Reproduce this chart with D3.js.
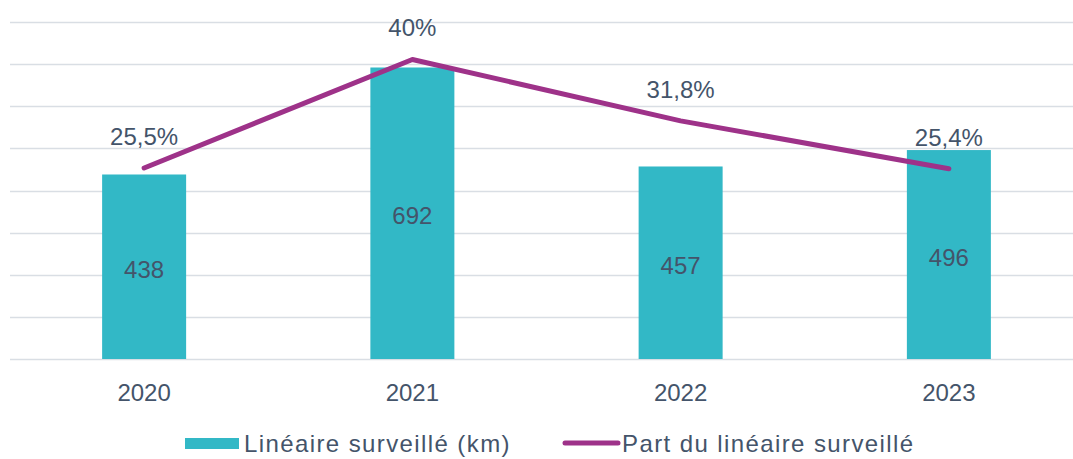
<!DOCTYPE html>
<html>
<head>
<meta charset="utf-8">
<script src="https://cdn.jsdelivr.net/npm/d3@7"></script>
<style>
  body { margin: 0; background: #fff; }
  text { font-family: "Liberation Sans", Arial, sans-serif; fill: #44546a; }
</style>
</head>
<body>
<svg id="chart" width="1073" height="459"></svg>
<script>
var years = ["2020", "2021", "2022", "2023"];
var lineaire = [438, 692, 457, 496];          // km
var part = [25.5, 40, 31.8, 25.4];            // %
var partLabels = ["25,5%", "40%", "31,8%", "25,4%"];
var gridTicks = [0, 100, 200, 300, 400, 500, 600, 700, 800];
var legendNames = ["Linéaire surveillé (km)", "Part du linéaire surveillé"];

var svg = d3.select('#chart');
var barColor = '#32b8c6', lineColor = '#9e3289';
var fs = 24;

var x = d3.scaleBand().domain(years).range([10, 1083]);
var y = d3.scaleLinear().domain([0, 800]).range([359, 22]);
var y2 = d3.scaleLinear().domain([0, 45]).range([359, 22]);
var barW = 84;

// gridlines
svg.append('g')
  .selectAll('line')
  .data(gridTicks)
  .enter().append('line')
    .attr('x1', 10)
    .attr('x2', 1073)
    .attr('y1', function(d) { return Math.round(y(d)) + 0.5; })
    .attr('y2', function(d) { return Math.round(y(d)) + 0.5; })
    .attr('stroke', '#d9dee4')
    .attr('stroke-width', 1.5);

// bars
svg.append('g')
  .selectAll('rect')
  .data(lineaire)
  .enter().append('rect')
    .attr('x', function(d, i) { return x(years[i]) + x.bandwidth() / 2 - barW / 2; })
    .attr('y', function(d) { return y(d); })
    .attr('width', barW)
    .attr('height', function(d) { return y(0) - y(d); })
    .attr('fill', barColor);

svg.append('g')
  .selectAll('text')
  .data(lineaire)
  .enter().append('text')
    .attr('x', function(d, i) { return x(years[i]) + x.bandwidth() / 2; })
    .attr('y', function(d) { return (y(d) + y(0)) / 2 + 11; })
    .attr('text-anchor', 'middle')
    .attr('font-size', fs)
    .text(function(d) { return d; });

// line
var line = d3.line()
  .x(function(d, i) { return x(years[i]) + x.bandwidth() / 2; })
  .y(function(d) { return y2(d); });

svg.append('path')
  .datum(part)
  .attr('d', line)
  .attr('fill', 'none')
  .attr('stroke', lineColor)
  .attr('stroke-width', 5)
  .attr('stroke-linecap', 'round')
  .attr('stroke-linejoin', 'round');

svg.append('g')
  .selectAll('text')
  .data(part)
  .enter().append('text')
    .attr('x', function(d, i) { return x(years[i]) + x.bandwidth() / 2; })
    .attr('y', function(d) { return y2(d) - 23; })
    .attr('text-anchor', 'middle')
    .attr('font-size', fs)
    .text(function(d, i) { return partLabels[i]; });

// x axis labels
svg.append('g')
  .selectAll('text')
  .data(years)
  .enter().append('text')
    .attr('x', function(d) { return x(d) + x.bandwidth() / 2; })
    .attr('y', 401)
    .attr('text-anchor', 'middle')
    .attr('font-size', fs)
    .text(function(d) { return d; });

// legend
var lg = svg.append('g');
lg.append('rect')
  .attr('x', 185).attr('y', 438).attr('width', 54).attr('height', 11)
  .attr('fill', barColor);
lg.append('text')
  .attr('x', 244).attr('y', 452).attr('font-size', fs)
  .attr('letter-spacing', 1.4)
  .text(legendNames[0]);
lg.append('line')
  .attr('x1', 565).attr('x2', 618).attr('y1', 443).attr('y2', 443)
  .attr('stroke', lineColor).attr('stroke-width', 5).attr('stroke-linecap', 'round');
lg.append('text')
  .attr('x', 622).attr('y', 452).attr('font-size', fs)
  .attr('letter-spacing', 1.4)
  .text(legendNames[1]);
</script>
</body>
</html>
